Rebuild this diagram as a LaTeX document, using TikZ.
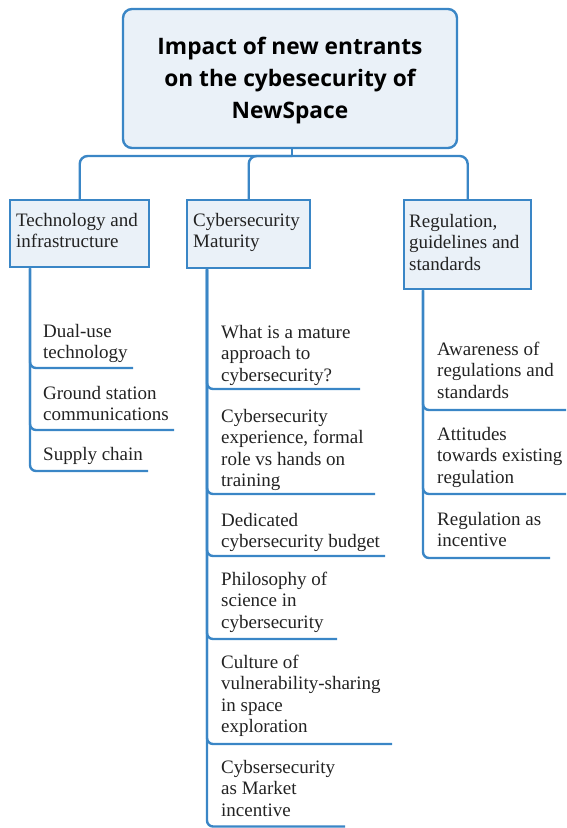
\documentclass[tikz,border=0pt]{standalone}
\usepackage{fontspec}
\setmainfont{Liberation Serif}
\newfontfamily\itemfont{Liberation Serif}
\newfontfamily\titlefont{Open Sans}
\definecolor{mblue}{RGB}{58,134,198}
\definecolor{mfill}{RGB}{234,241,248}
\definecolor{mtext}{RGB}{34,34,34}
\newcommand{\ml}[1]{\begin{tabular}[t]{@{}l@{}}#1\end{tabular}}
\begin{document}
\begin{tikzpicture}[x=1pt,y=-1pt,
  conn/.style={draw=mblue,line width=2.4pt},
  branch/.style={draw=mblue,fill=mfill,line width=2.4pt,anchor=north west,
    minimum width=#1,inner sep=0pt},
  btext/.style={anchor=base west,inner sep=0pt,text=mtext,
    font=\itemfont\fontsize{19}{21.5}\selectfont},
  item/.style={anchor=base west,inner sep=0pt,text=mtext,
    font=\itemfont\fontsize{19}{21.5}\selectfont},
  rootbox/.style={draw=mblue,fill=mfill,line width=2.4pt,rounded corners=9pt,
    minimum width=334pt,minimum height=139pt,inner sep=0pt},
  roottext/.style={anchor=base,align=center,inner sep=0pt,text=black,
    font=\titlefont\bfseries\fontsize{22.7}{32}\selectfont}]
\useasboundingbox (0,0) rectangle (566,828);

% root
\node[rootbox] (root) at (290,78.5) {};
\node[roottext] (rt1) at (290,54) {Impact of new entrants};
\node[roottext] (rt2) at (290,86) {on the cybesecurity of};
\node[roottext] (rt3) at (290,118) {NewSpace};

% branches
\node[branch=139pt,minimum height=67pt] (tech) at (9,199) {};
\node[branch=123pt,minimum height=68pt] (mat) at (186,199) {};
\node[branch=127pt,minimum height=89pt] (reg) at (403,199) {};
\node[btext] (techt) at (16,226) {\ml{Technology and\\infrastructure}};
\node[btext] (matt) at (193,226) {\ml{Cybersecurity\\Maturity}};
\node[btext] (regt) at (409,227) {\ml{Regulation,\\guidelines and\\standards}};

\coordinate (j) at (292,156);
\draw[conn] (root.south -| j) -- (j);
\draw[conn,rounded corners=8pt] (j) -| (tech.north);
\draw[conn,rounded corners=8pt] (j) -| (mat.north);
\draw[conn,rounded corners=8pt] (j) -| (reg.north);

% stems
\coordinate (ts) at ([xshift=21pt]tech.south west);
\coordinate (ms) at ([xshift=21pt]mat.south west);
\coordinate (rs) at ([xshift=20pt]reg.south west);

% technology items
\node[item] (t1) at (43,337) {\ml{Dual-use\\technology}};
\node[item] (t2) at (43,399) {\ml{Ground station\\communications}};
\node[item] (t3) at (43,460) {\ml{Supply chain}};
\coordinate (t1e) at (133,368);
\coordinate (t2e) at (174,430);
\coordinate (t3e) at (148,471);
\foreach \e in {t1e,t2e,t3e} \draw[conn,rounded corners=6pt] (ts) |- (\e);

% maturity items
\node[item] (m1) at (221,338) {\ml{What is a mature\\approach to\\cybersecurity?}};
\node[item] (m2) at (221,422) {\ml{Cybersecurity\\experience, formal\\role vs hands on\\training}};
\node[item] (m3) at (221,526) {\ml{Dedicated\\cybersecurity budget}};
\node[item] (m4) at (221,585) {\ml{Philosophy of\\science in\\cybersecurity}};
\node[item] (m5) at (221,668) {\ml{Culture of\\vulnerability-sharing\\in space\\exploration}};
\node[item] (m6) at (221,773) {\ml{Cybsersecurity\\as Market\\incentive}};
\coordinate (m1e) at (360,389);
\coordinate (m2e) at (375,494);
\coordinate (m3e) at (385,556);
\coordinate (m4e) at (337,639);
\coordinate (m5e) at (392,744);
\coordinate (m6e) at (345,826.5);
\foreach \e in {m1e,m2e,m3e,m4e,m5e,m6e} \draw[conn,rounded corners=6pt] (ms) |- (\e);

% regulation items
\node[item] (r1) at (437,355) {\ml{Awareness of\\regulations and\\standards}};
\node[item] (r2) at (437,440) {\ml{Attitudes\\towards existing\\regulation}};
\node[item] (r3) at (437,525) {\ml{Regulation as\\incentive}};
\coordinate (r1e) at (566,410);
\coordinate (r2e) at (566,494);
\coordinate (r3e) at (550,558);
\foreach \e in {r1e,r2e,r3e} \draw[conn,rounded corners=6pt] (rs) |- (\e);
\end{tikzpicture}
\end{document}
